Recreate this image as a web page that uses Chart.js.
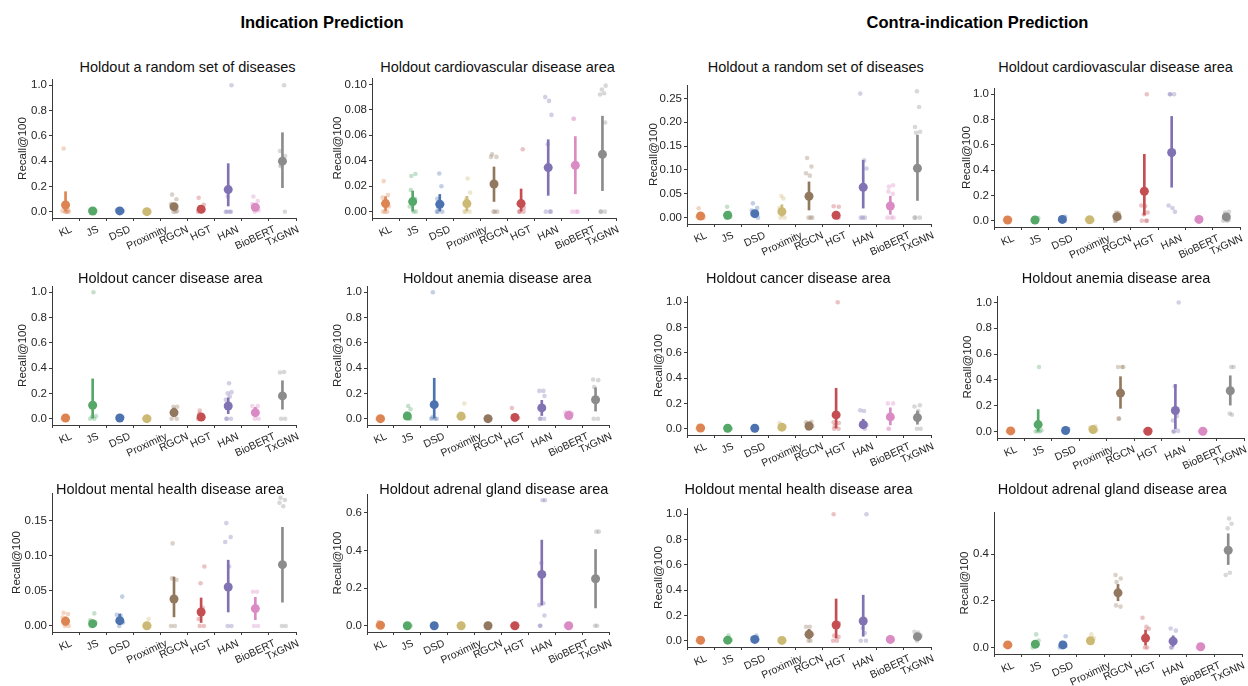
<!DOCTYPE html>
<html><head><meta charset="utf-8">
<script src="https://cdn.jsdelivr.net/npm/chart.js@4.4.1/dist/chart.umd.min.js"></script>
<style>
body{margin:0;background:#fff;width:1248px;height:686px;overflow:hidden;position:relative;font-family:"Liberation Sans",Arial,sans-serif;}
.sup{position:absolute;font-weight:bold;font-size:16.5px;color:#000;white-space:nowrap;transform:translate(-50%,-50%);}
.ttl{position:absolute;font-size:14.5px;color:#111;white-space:nowrap;transform:translate(-50%,-50%);}
canvas{position:absolute;}
</style></head><body>
<div class="sup" style="left:322px;top:22px">Indication Prediction</div>
<div class="sup" style="left:977.5px;top:22px">Contra-indication Prediction</div>
<script>
// ---------------- DATA ----------------
const categories = ['KL','JS','DSD','Proximity','RGCN','HGT','HAN','BioBERT','TxGNN'];
const colors = ['#dd8452','#55a868','#4c72b0','#ccb974','#937860','#c44e52','#8172b3','#da8bc3','#8c8c8c'];

const ticksUnit = [0,0.2,0.4,0.6,0.8,1.0];
const ticksCardioInd = [0,0.02,0.04,0.06,0.08,0.10];
const ticksRandomContra = [0,0.05,0.10,0.15,0.20,0.25];
const ticksMentalInd = [0,0.05,0.10,0.15];
const ticksAdrenalInd = [0,0.2,0.4,0.6];
const ticksAdrenalContra = [0,0.2,0.4];

// Indication - random
const indRandomMean = [0.053,0.005,0.006,0.0,0.04,0.02,0.175,0.035,0.4];
const indRandomLow  = [0.0,0.0,0.001,0.0,0.012,0.005,0.045,0.01,0.19];
const indRandomHigh = [0.158,0.01,0.012,0.002,0.065,0.035,0.38,0.065,0.625];
const indRandomPts = [[0.5,0.012,0.006,0,0,0,0],[0.012,0.008,0.004,0,0],[0.013,0.009,0.005,0.002,0],[0.002,0,0],
  [0.135,0.098,0.06,0.03,0.005,0,0],[0.11,0.055,0.035,0.02,0.01,0,0],[1.0,0.12,0,0,0,0],[0.12,0.085,0.06,0.035,0.01,0],[1.0,0.48,0.44,0.37,0.36,0.0]];

// Indication - cardiovascular
const indCardioMean = [0.0063,0.0079,0.0058,0.0063,0.0217,0.0063,0.0346,0.0364,0.045];
const indCardioLow  = [0.001,0.0,0.0005,0.0005,0.008,0.0,0.0128,0.014,0.0165];
const indCardioHigh = [0.0118,0.0162,0.0135,0.012,0.0351,0.0178,0.0565,0.059,0.075];
const indCardioPts = [[0.024,0.013,0.011,0.008,0.004,0,0,0],[0.0296,0.028,0.017,0.01,0.004,0,0],[0.03,0.02,0.01,0.006,0.003,0,0,0],
  [0.026,0.015,0.01,0.005,0,0,0],[0.045,0.043,0.043,0,0,0],[0.049,0.006,0.003,0,0,0],[0.09,0.087,0.076,0.053,0,0,0],[0.073,0.073,0,0,0],[0.099,0.096,0.093,0.092,0.07,0,0,0]];

// Contra-indication - random
const conRandomMean = [0.0035,0.005,0.0084,0.0126,0.0448,0.005,0.0637,0.0245,0.1036];
const conRandomLow  = [0.0005,0.001,0.003,0.003,0.016,0.002,0.02,0.007,0.036];
const conRandomHigh = [0.007,0.009,0.014,0.027,0.075,0.009,0.12,0.045,0.173];
const conRandomPts = [[0.0196,0.005,0.002,0,0],[0.023,0.01,0.005,0.002,0],[0.03,0.02,0.015,0.005,0],[0.0455,0.04,0.02,0,0],
  [0.125,0.107,0.093,0.088,0,0,0],[0.024,0.023,0.005,0.002,0],[0.26,0.12,0.103,0,0,0],[0.068,0.065,0.055,0.05,0,0,0],[0.265,0.232,0.19,0.18,0.178,0,0,0]];

// Contra-indication - cardiovascular
const conCardioMean = [0.005,0.005,0.01,0.007,0.032,0.233,0.54,0.01,0.03];
const conCardioLow  = [0.002,0.002,0.005,0.004,0.01,0.045,0.265,0.005,0.01];
const conCardioHigh = [0.01,0.01,0.015,0.01,0.05,0.525,0.825,0.015,0.05];
const conCardioPts = [[0.02,0.01,0.003,0],[0.02,0.01,0.003,0],[0.03,0.012,0.005,0],[0.01,0.006,0.003],
  [0.065,0.06,0.04,0.02,0,0],[1.0,0.12,0.115,0.065,0.05,0,0,0],[1.0,1.0,1.0,0.12,0.1,0.07],[0.02,0.012,0.005],[0.07,0.065,0.04,0.005,0,0]];

// Indication - cancer
const indCancerMean = [0.005,0.106,0.005,0.0,0.048,0.013,0.1,0.048,0.18];
const indCancerLow  = [0.001,0.005,0.001,0.0,0.015,0.003,0.04,0.015,0.075];
const indCancerHigh = [0.01,0.315,0.01,0.003,0.085,0.03,0.165,0.09,0.3];
const indCancerPts = [[0.01,0.005,0],[1.0,0.02,0.015,0,0],[0.012,0.005,0],[0.005,0,0],
  [0.095,0.095,0.05,0,0],[0.065,0.04,0.005,0],[0.28,0.21,0.2,0.175,0.15,0,0,0],[0.1,0.1,0.05,0,0],[0.37,0.365,0,0]];

// Indication - anemia
const indAnemiaMean = [0.0,0.021,0.111,0.02,0.0,0.01,0.085,0.025,0.15];
const indAnemiaLow  = [0.0,0.005,0.005,0.005,0.0,0.002,0.025,0.01,0.06];
const indAnemiaHigh = [0.003,0.04,0.32,0.04,0.002,0.02,0.145,0.04,0.245];
const indAnemiaPts = [[0.005,0,0],[0.1,0.075,0.04,0.02,0.01,0],[1.0,0.01,0,0,0],[0.12,0.04,0.03,0.02,0.01,0],
  [0,0],[0.085,0.01,0.005,0],[0.22,0.22,0.18,0,0,0],[0.05,0.05,0.04,0.02,0.01],[0.31,0.305,0.25,0,0]];

// Contra-indication - cancer
const conCancerMean = [0.005,0.003,0.003,0.012,0.021,0.109,0.032,0.093,0.088];
const conCancerLow  = [0.001,0.0,0.0,0.003,0.005,0.005,0.005,0.03,0.035];
const conCancerHigh = [0.01,0.006,0.006,0.02,0.04,0.32,0.075,0.165,0.14];
const conCancerPts = [[0.02,0.005,0],[0.005,0],[0.005,0],[0.045,0.02,0.01,0],
  [0.055,0.05,0.04,0.02,0],[1.0,0.05,0.045,0.02,0,0],[0.145,0.14,0.03,0.02,0],[0.2,0.2,0,0],[0.185,0.175,0.14,0,0]];

// Contra-indication - anemia
const conAnemiaMean = [0.005,0.054,0.008,0.015,0.298,0.002,0.163,0.002,0.316];
const conAnemiaLow  = [0.001,0.003,0.003,0.003,0.18,0.0,0.02,0.0,0.205];
const conAnemiaHigh = [0.01,0.17,0.015,0.03,0.425,0.005,0.365,0.004,0.432];
const conAnemiaPts = [[0.015,0.005,0],[0.5,0.01,0.005,0,0],[0.02,0.01,0],[0.04,0.03,0.02,0.01,0],
  [0.5,0.5,0.5,0.1,0.1],[0.01,0.005,0],[1.0,0.35,0.12,0.085,0.005,0,0],[0.005,0],[0.5,0.5,0.14,0.13]];

// Indication - mental health
const indMentalMean = [0.0067,0.0033,0.0076,0.0003,0.0386,0.02,0.0557,0.0248,0.0876];
const indMentalLow  = [0.0015,0.0005,0.002,0.0,0.013,0.005,0.02,0.009,0.034];
const indMentalHigh = [0.013,0.007,0.017,0.001,0.07,0.04,0.094,0.041,0.141];
const indMentalPts = [[0.019,0.017,0.012,0.005,0,0],[0.018,0.008,0.005,0.002,0],[0.042,0.016,0.015,0.005,0],[0.01,0,0],
  [0.118,0.068,0.066,0,0],[0.085,0.061,0.026,0.01,0,0],[0.147,0.127,0.12,0.085,0,0],[0.049,0.049,0,0],[0.183,0.18,0.176,0.171,0,0]];

// Indication - adrenal gland
const indAdrenalMean = [0.003,0,0,0,0,0,0.273,0,0.25];
const indAdrenalLow  = [0.0,0,0,0,0,0,0.11,0,0.095];
const indAdrenalHigh = [0.007,0,0,0,0,0,0.455,0,0.405];
const indAdrenalPts = [[0.02,0.005,0],[0,0],[0,0],[0,0],[0,0],[0,0],[0.667,0.667,0.333,0.12,0.11,0.055,0,0],[0,0],[0.5,0.5,0,0]];

// Contra-indication - mental health
const conMentalMean = [0.003,0.004,0.01,0.002,0.05,0.124,0.156,0.01,0.032];
const conMentalLow  = [0.0,0.0,0.003,0.0,0.015,0.02,0.035,0.005,0.01];
const conMentalHigh = [0.008,0.01,0.02,0.004,0.09,0.33,0.36,0.015,0.055];
const conMentalPts = [[0.02,0.005,0],[0.04,0.005,0],[0.04,0.02,0.01,0],[0.005,0],
  [0.11,0.11,0.05,0,0],[1.0,0.14,0.13,0.04,0.03,0,0],[1.0,0.1,0.06,0,0],[0.02,0.01,0.005],[0.07,0.065,0.04,0]];

// Contra-indication - adrenal gland
const conAdrenalMean = [0.011,0.014,0.011,0.0286,0.234,0.04,0.027,0.003,0.416];
const conAdrenalLow  = [0.008,0.005,0.005,0.02,0.2,0.01,0.005,0.001,0.355];
const conAdrenalHigh = [0.016,0.025,0.018,0.037,0.27,0.075,0.05,0.005,0.487];
const conAdrenalPts = [[0.016,0.01,0.008],[0.056,0.03,0.02,0.01,0],[0.048,0.02,0.01,0.005,0],[0.056,0.04,0.03,0.02],
  [0.31,0.295,0.28,0.18,0.175],[0.127,0.088,0.08,0,0],[0.081,0.072,0,0],[0.005,0],[0.552,0.53,0.51,0.32,0.31]];

// ---------------- STYLE / LAYOUT ----------------
const FONT = '"Liberation Sans", Arial, sans-serif';
const AXIS = '#3a3a3a';
const TXT = '#262626';
const jitterPattern = [-0.07,0.09,-0.11,0.03,0.12,-0.02,0.06,-0.09,0.10,-0.05];

const panels = [
  {title:'Holdout a random set of diseases', tx:187.5, ty:66.7, rect:[52,79,296,218], yr:[-0.05,1.05], ticks:ticksUnit, dec:1, gap:29, m:indRandomMean, lo:indRandomLow, hi:indRandomHigh, p:indRandomPts},
  {title:'Holdout cardiovascular disease area', tx:497.5, ty:66.7, rect:[372,78,616,218], yr:[-0.005,0.105], ticks:ticksCardioInd, dec:2, gap:34, m:indCardioMean, lo:indCardioLow, hi:indCardioHigh, p:indCardioPts},
  {title:'Holdout a random set of diseases', tx:815.8, ty:66.7, rect:[687,85,931,224], yr:[-0.0133,0.278], ticks:ticksRandomContra, dec:2, gap:33.4, m:conRandomMean, lo:conRandomLow, hi:conRandomHigh, p:conRandomPts},
  {title:'Holdout cardiovascular disease area', tx:1115.5, ty:66.7, rect:[994,88,1240,227], yr:[-0.05,1.05], ticks:ticksUnit, dec:1, gap:27, m:conCardioMean, lo:conCardioLow, hi:conCardioHigh, p:conCardioPts},
  {title:'Holdout cancer disease area', tx:170.3, ty:277.7, rect:[52,286,296,425], yr:[-0.05,1.05], ticks:ticksUnit, dec:1, gap:29, m:indCancerMean, lo:indCancerLow, hi:indCancerHigh, p:indCancerPts},
  {title:'Holdout anemia disease area', tx:497.2, ty:277.7, rect:[367,286,609,425], yr:[-0.05,1.05], ticks:ticksUnit, dec:1, gap:29, m:indAnemiaMean, lo:indAnemiaLow, hi:indAnemiaHigh, p:indAnemiaPts},
  {title:'Holdout cancer disease area', tx:798.3, ty:277.7, rect:[687,296,931,435], yr:[-0.05,1.05], ticks:ticksUnit, dec:1, gap:28, m:conCancerMean, lo:conCancerLow, hi:conCancerHigh, p:conCancerPts},
  {title:'Holdout anemia disease area', tx:1116, ty:277.7, rect:[997,296,1244,438], yr:[-0.05,1.05], ticks:ticksUnit, dec:1, gap:29, m:conAnemiaMean, lo:conAnemiaLow, hi:conAnemiaHigh, p:conAnemiaPts},
  {title:'Holdout mental health disease area', tx:170, ty:489, rect:[52,493,296,632], yr:[-0.0086,0.19], ticks:ticksMentalInd, dec:2, gap:34.6, m:indMentalMean, lo:indMentalLow, hi:indMentalHigh, p:indMentalPts},
  {title:'Holdout adrenal gland disease area', tx:493.8, ty:489, rect:[367,494,609,632], yr:[-0.033,0.7], ticks:ticksAdrenalInd, dec:1, gap:29, m:indAdrenalMean, lo:indAdrenalLow, hi:indAdrenalHigh, p:indAdrenalPts},
  {title:'Holdout mental health disease area', tx:798.5, ty:489, rect:[687,508,931,647], yr:[-0.05,1.05], ticks:ticksUnit, dec:1, gap:28, m:conMentalMean, lo:conMentalLow, hi:conMentalHigh, p:conMentalPts},
  {title:'Holdout adrenal gland disease area', tx:1112.3, ty:489, rect:[994,512,1242,654], yr:[-0.028,0.58], ticks:ticksAdrenalContra, dec:1, gap:29, m:conAdrenalMean, lo:conAdrenalLow, hi:conAdrenalHigh, p:conAdrenalPts}
];

function alpha(hex, a){
  const n = parseInt(hex.slice(1),16);
  return `rgba(${(n>>16)&255},${(n>>8)&255},${n&255},${a})`;
}

const xLabelPlugin = {
  id:'xlabels',
  afterDraw(chart){
    const sc = chart.scales.x, ctx = chart.ctx;
    const th = 25*Math.PI/180, fs = 10.5, h = fs*0.8;
    ctx.save();
    ctx.font = fs + 'px ' + FONT;
    ctx.fillStyle = TXT;
    ctx.textAlign = 'center';
    ctx.textBaseline = 'middle';
    categories.forEach((c,i)=>{
      const x = sc.getPixelForValue(i);
      const w = ctx.measureText(c).width;
      const H = w*Math.sin(th) + h*Math.cos(th);
      const y = sc.top + 3 + 4 + H/2;
      ctx.save(); ctx.translate(x,y); ctx.rotate(-th); ctx.fillText(c,0,0); ctx.restore();
    });
    ctx.restore();
  }
};

Chart.defaults.font.family = FONT;

panels.forEach(P=>{
  const [L,T,R,B] = P.rect;
  const yW = Math.round(P.gap + 6.9);
  const cl = L - yW, ct = T - 10;
  const W = yW + (R-L) + 16, H = 10 + (B-T) + 62;
  const t = document.createElement('div');
  t.className = 'ttl'; t.style.left = P.tx+'px'; t.style.top = P.ty+'px'; t.textContent = P.title;
  document.body.appendChild(t);
  const cv = document.createElement('canvas');
  cv.width = W; cv.height = H;
  cv.style.left = cl+'px'; cv.style.top = ct+'px'; cv.style.width = W+'px'; cv.style.height = H+'px';
  document.body.appendChild(cv);

  const raw = [], rawCol = [];
  let k = 0;
  P.p.forEach((arr,i)=>{
    arr.forEach(v=>{
      raw.push({x: i + jitterPattern[k % jitterPattern.length], y: v});
      rawCol.push(alpha(colors[i],0.34));
      k++;
    });
  });

  new Chart(cv, {
    type:'scatter',
    data:{datasets:[
      {type:'scatter', data:P.m.map((v,i)=>({x:i,y:v})), pointRadius:4.5, pointBackgroundColor:colors, pointBorderWidth:0, pointHoverRadius:4.5, order:0},
      {type:'bar', data:P.m.map((v,i)=>({x:i,y:[P.lo[i],P.hi[i]]})), backgroundColor:colors, barThickness:2, borderWidth:0, order:1},
      {type:'scatter', data:raw, pointRadius:2.3, pointBackgroundColor:rawCol, pointBorderWidth:0, order:2}
    ]},
    options:{
      responsive:false, animation:false, devicePixelRatio:1,
      layout:{padding:{top:10,right:16,left:0,bottom:0}},
      plugins:{legend:{display:false}, tooltip:{enabled:false}, title:{display:false}},
      events:[],
      scales:{
        x:{type:'linear', min:-0.5, max:8.5, offset:false,
           afterBuildTicks: ax=>{ ax.ticks = categories.map((c,i)=>({value:i})); },
           afterFit: ax=>{ ax.height = 62; },
           ticks:{display:false},
           grid:{display:true, drawOnChartArea:false, drawTicks:true, tickLength:3, color:AXIS, lineWidth:1},
           border:{display:true, color:AXIS, width:1}},
        y:{type:'linear', min:P.yr[0], max:P.yr[1],
           afterBuildTicks: ax=>{ ax.ticks = P.ticks.map(v=>({value:v})); },
           afterFit: ax=>{ ax.width = yW; },
           ticks:{callback:v=>Number(v).toFixed(P.dec), font:{size:11.5, family:FONT}, color:TXT, padding:2},
           grid:{display:true, drawOnChartArea:false, drawTicks:true, tickLength:3, color:AXIS, lineWidth:1},
           border:{display:true, color:AXIS, width:1},
           title:{display:true, text:'Recall@100', font:{size:11.5, family:FONT}, color:TXT, padding:0}}
      }
    },
    plugins:[xLabelPlugin]
  });
});
</script>
</body></html>
